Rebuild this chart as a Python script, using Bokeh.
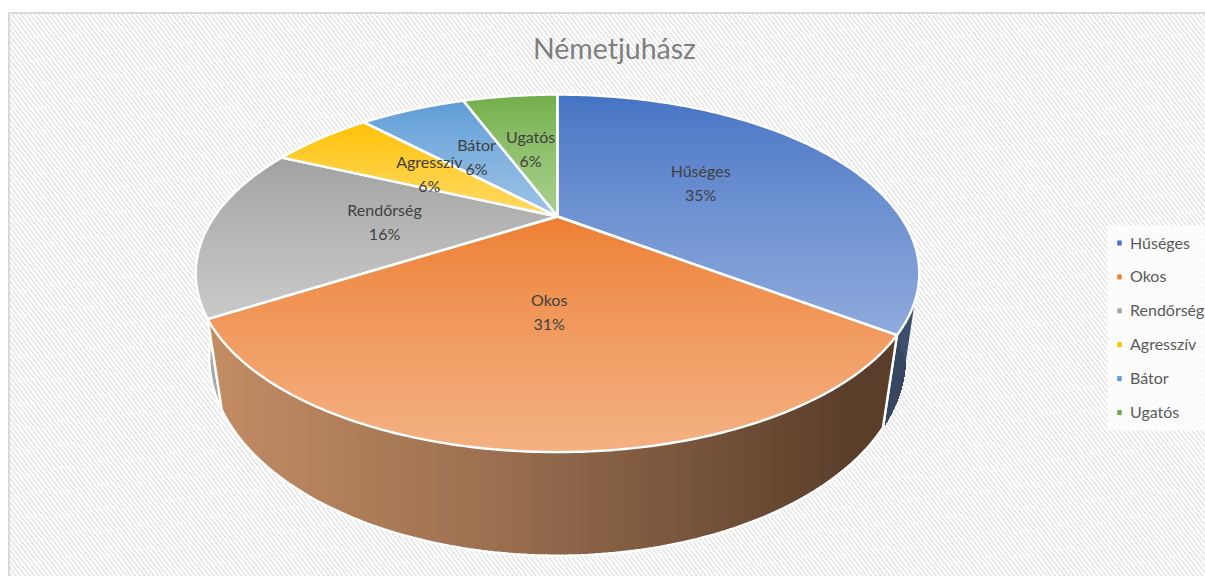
from bokeh.plotting import figure
from bokeh.models import Range1d
from bokeh.core.properties import value
from bokeh.embed import file_html
from bokeh.resources import INLINE
import numpy as np

TITLE = "Németjuhász"
categories = ["Hűséges", "Okos", "Rendőrség", "Agresszív", "Bátor", "Ugatós"]
shares = [35.2, 30.9, 15.7, 6.0, 6.4, 5.8]
top_colors = ["#4472C4", "#ED7D31", "#A0A0A0", "#FFC000", "#5B9BD5", "#70AD47"]
low_colors = ["#8FAADC", "#F4B183", "#C9C9C9", "#FFD966", "#9DC3E6", "#A9D18E"]
legend_colors = ["#4472C4", "#ED7D31", "#A5A5A5", "#FFC000", "#5B9BD5", "#70AD47"]

W, H = 1205, 576
p = figure(width=W, height=H, output_backend="svg", toolbar_location=None,
           x_range=Range1d(0, W), y_range=Range1d(H, 0),
           min_border=0, outline_line_color=None, background_fill_color="white",
           border_fill_color="white")
p.xaxis.visible = False
p.yaxis.visible = False
p.grid.visible = False

# background panel with diagonal weave
PX0, PY0, PX1, PY1 = 9, 13, 1206, 577
xs0 = np.arange(PX0 - 440, PX1, 4.6)
sx0, sy0, sx1, sy1 = [], [], [], []
slope = 1.3
for x0 in xs0:
    a0, b0 = x0, PY0
    a1, b1 = x0 + (PY1 - PY0) / slope, PY1
    if a0 < PX0:
        b0 = PY0 + (PX0 - a0) * slope
        a0 = PX0
    if a1 > PX1:
        b1 = PY1 - (a1 - PX1) * slope
        a1 = PX1
    if a0 < a1:
        sx0.append(a0); sy0.append(b0); sx1.append(a1); sy1.append(b1)
p.segment(sx0, sy0, sx1, sy1, line_color="#E6E6E6", line_width=1.6)
p.line([8.5, 8.5, 1206], [577, 12.5, 12.5], line_color="#D9D9D9", line_width=2)

# projective disc
CX, CY, PROJ_Y, C, A = 557.0, 216.0, 92.0, 0.318, 343.0
D, E = 0.035, 90.0


def proj(r, th, base=False):
    u = r * np.sin(th)
    v = r * np.cos(th)
    w = 1 + C * v + (D if base else 0)
    return CX + A * u / w, (CY - PROJ_Y * v + (E if base else 0)) / w


def hex2rgb(h):
    return np.array([int(h[i:i + 2], 16) for i in (1, 3, 5)], float)


def lerp(c0, c1, t):
    c = hex2rgb(c0) * (1 - t) + hex2rgb(c1) * t
    return "#%02x%02x%02x" % tuple(int(round(k)) for k in c)


def clip(poly, axis, lo, hi):
    def one(pts, keep, cross):
        out = []
        for i in range(len(pts)):
            a, b = pts[i], pts[(i + 1) % len(pts)]
            ka, kb = keep(a), keep(b)
            if ka:
                out.append(a)
            if ka != kb:
                t = (cross - a[axis]) / (b[axis] - a[axis])
                out.append((a[0] + t * (b[0] - a[0]), a[1] + t * (b[1] - a[1])))
        return out
    pts = one(poly, lambda q: q[axis] >= lo, lo)
    if pts:
        pts = one(pts, lambda q: q[axis] <= hi, hi)
    return pts


def gradient(poly, axis, step, color_at):
    lo = min(q[axis] for q in poly)
    hi = max(q[axis] for q in poly)
    gx, gy, gc = [], [], []
    z = lo
    while z < hi:
        pts = clip(poly, axis, z, hi)  # each band runs to the far end; later bands paint over it
        if len(pts) >= 3:
            gx.append([q[0] for q in pts])
            gy.append([q[1] for q in pts])
            gc.append(color_at((z + step / 2 - lo) / (hi - lo), z + step / 2))
        z += step
    p.patches(gx, gy, fill_color=gc, line_color=None)


total = sum(shares)
cum = np.cumsum([0] + shares) / total * 2 * np.pi
WHITE = 2.4

# side walls, back to front: Rendőrség, Hűséges, Okos
WALL = {2: ("#A8A8A8", "#A8A8A8"), 0: ("#3E4F6E", "#36465F"), 1: None}
for i in (2, 0, 1):
    ths = np.linspace(cum[i], cum[i + 1], 140)
    tx, ty = proj(1, ths)
    bx, by = proj(1, ths, base=True)
    poly = list(zip(tx, ty)) + list(zip(bx[::-1], by[::-1]))
    if i == 1:
        gradient(poly, 0, 4, lambda t, z: lerp("#C48D64", "#9A6F50", t / 0.42) if t < 0.42
                 else lerp("#9A6F50", "#5A3E2A", min(1, (t - 0.42) / 0.52)))
    else:
        c0, c1 = WALL[i]
        gradient(poly, 0, 4, lambda t, z, c0=c0, c1=c1: lerp(c0, c1, t))
        if i == 0:
            # the wall's outer edge runs on up to the rim, as a wedge beside the top face
            ax, ay = proj(1, cum[1] - 0.17)
            qx, qy = proj(1, cum[1] - 0.30, base=True)
            ex, ey = proj(1, cum[1])
            p.patch([ax, qx, ex], [ay, qy, ey], fill_color=c0, line_color=None)
    if i != 0:
        p.line(list(bx), list(by), line_color="white", line_width=WHITE)
    for k in (0, -1):
        p.line([tx[k], bx[k]], [ty[k], by[k]], line_color="white", line_width=WHITE)

# top faces
for i in range(len(categories)):
    ths = np.linspace(cum[i], cum[i + 1], 140)
    tx, ty = proj(1, ths)
    poly = [(CX, CY)] + list(zip(tx, ty))
    gradient(poly, 1, 2, lambda t, z, i=i: lerp(top_colors[i], low_colors[i], t ** 0.8))
for i in range(len(categories)):
    ths = np.linspace(cum[i], cum[i + 1], 140)
    tx, ty = proj(1, ths)
    p.line([CX] + list(tx) + [CX], [CY] + list(ty) + [CY], line_color="white", line_width=WHITE,
           line_join="round")

FONT = value("Lato")
# data labels
for i, name in enumerate(categories):
    mid = (cum[i] + cum[i + 1]) / 2
    lx, ly = proj(0.5, mid)
    pct = "%d%%" % round(100 * shares[i] / total)
    for txt, yy in ((name, ly - 12), (pct, ly + 12)):
        p.text([lx], [yy], text=[txt], text_font=FONT, text_font_size="16px",
               text_color="#404040", text_align="center", text_baseline="middle")

# title
p.text([614], [47], text=[TITLE], text_font=FONT, text_font_size="28.5px", text_color="#7F7F7F",
       text_align="center", text_baseline="middle")

# legend
p.quad(left=[1107], right=[1206], top=[225], bottom=[430], fill_color="white", fill_alpha=0.75,
       line_color=None)
for i, name in enumerate(categories):
    ly = 241.5 + 33.9 * i
    p.rect([1119], [ly + 1], width=4.5, height=5, fill_color=legend_colors[i], line_color=None)
    p.text([1129.5], [ly], text=[name], text_font=FONT, text_font_size="16px", text_color="#595959",
           text_align="left", text_baseline="middle")

open("out.html", "w").write(file_html(p, INLINE))
